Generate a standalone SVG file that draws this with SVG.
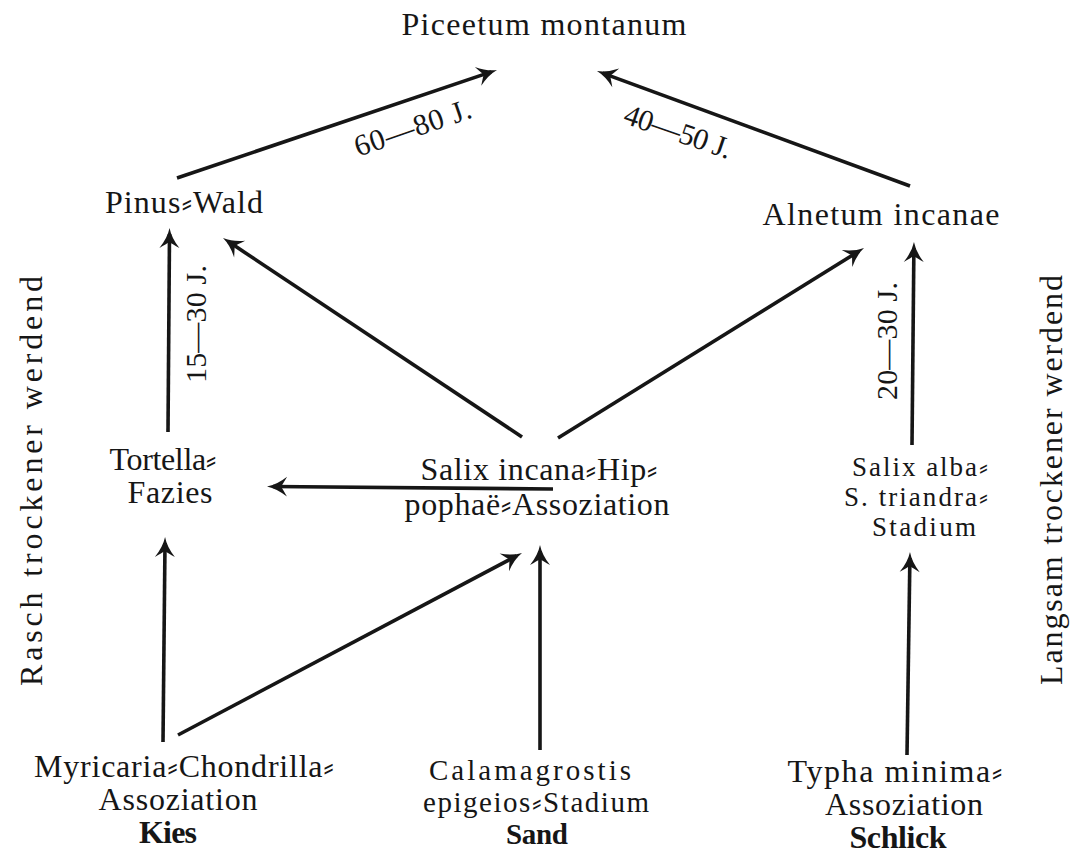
<svg xmlns="http://www.w3.org/2000/svg" width="1072" height="854" viewBox="0 0 1072 854">
<style>
.t{font-family:"Liberation Serif","DejaVu Serif",serif;font-size:32px;fill:#161616;text-anchor:middle}
.b{font-weight:bold}
.l{font-size:30px}
.s27{font-size:27px}
.s29{font-size:29px}
.c{stroke:#161616;stroke-width:3.6;fill:none;marker-end:url(#ah)}
</style>
<defs>
<marker id="ah" markerUnits="userSpaceOnUse" markerWidth="30" markerHeight="24" viewBox="-20 -12 30 24" refX="0" refY="0" orient="auto" overflow="visible">
<path d="M6,0 Q-4,-2 -14,-10 Q-10,-3 -8,0 Q-10,3 -14,10 Q-4,2 6,0 Z" fill="#161616"/>
</marker>
</defs>
<rect width="1072" height="854" fill="#fff"/>
<g id="connectors">
<path class="c" d="M177,178 L491.3,71.9"/>
<path class="c" d="M910,186 L602.6,73.1"/>
<path class="c" d="M168,432 L169.5,234"/>
<path class="c" d="M522,437 L228,241.3"/>
<path class="c" d="M558,438 L858.9,251.2"/>
<path class="c" d="M912,445 L913.9,248"/>
<path class="c" d="M553,489 L273,486.5"/>
<path class="c" d="M163,742 L165,543"/>
<path class="c" d="M178,735 L516.7,555.8"/>
<path class="c" d="M540,750 L540,551"/>
<path class="c" d="M907,755 L909.9,558"/>
</g>
<g id="labels">
<text class="t l" transform="translate(416,137) rotate(-19)" textLength="122" lengthAdjust="spacing">60—80 J.</text>
<text class="t l" transform="translate(675,141) rotate(19)" textLength="112" lengthAdjust="spacing">40—50 J.</text>
<text class="t l" transform="translate(206,324) rotate(-90)" textLength="118" lengthAdjust="spacing">15—30 J.</text>
<text class="t l" transform="translate(897,341) rotate(-90)" textLength="118" lengthAdjust="spacing">20—30 J.</text>
<text class="t" transform="translate(42,481) rotate(-90)" textLength="410" lengthAdjust="spacing">Rasch trockener werdend</text>
<text class="t" transform="translate(1062,480) rotate(-90)" textLength="410" lengthAdjust="spacing">Langsam trockener werdend</text>
</g>
<g id="piceetum"><text class="t" x="544" y="35" textLength="285" lengthAdjust="spacing">Piceetum montanum</text></g>
<g id="pinus"><text class="t" x="184" y="213" textLength="158" lengthAdjust="spacing">Pinus⸗Wald</text></g>
<g id="alnetum"><text class="t" x="881" y="225" textLength="237" lengthAdjust="spacing">Alnetum incanae</text></g>
<g id="tortella">
<text class="t" x="163" y="470" textLength="107" lengthAdjust="spacing">Tortella⸗</text>
<text class="t" x="170" y="503" textLength="85" lengthAdjust="spacing">Fazies</text>
</g>
<g id="salix-incana">
<text class="t" x="539" y="480" textLength="237" lengthAdjust="spacing">Salix incana⸗Hip⸗</text>
<text class="t" x="537" y="515" textLength="265" lengthAdjust="spacing">pophaë⸗Assoziation</text>
</g>
<g id="salix-alba">
<text class="t s27" x="920" y="476" textLength="136" lengthAdjust="spacing">Salix alba⸗</text>
<text class="t s27" x="916" y="506" textLength="144" lengthAdjust="spacing">S. triandra⸗</text>
<text class="t s27" x="924" y="536" textLength="104" lengthAdjust="spacing">Stadium</text>
</g>
<g id="myricaria">
<text class="t" x="184" y="777" textLength="300" lengthAdjust="spacing">Myricaria⸗Chondrilla⸗</text>
<text class="t" x="178" y="810" textLength="159" lengthAdjust="spacing">Assoziation</text>
<text class="t b" x="168" y="843" textLength="58" lengthAdjust="spacing">Kies</text>
</g>
<g id="calamagrostis">
<text class="t s29" x="530" y="780" textLength="202" lengthAdjust="spacing">Calamagrostis</text>
<text class="t s29" x="536" y="812" textLength="226" lengthAdjust="spacing">epigeios⸗Stadium</text>
<text class="t b s29" x="537" y="844" textLength="62" lengthAdjust="spacing">Sand</text>
</g>
<g id="typha">
<text class="t" x="895" y="782" textLength="215" lengthAdjust="spacing">Typha minima⸗</text>
<text class="t" x="904" y="815" textLength="158" lengthAdjust="spacing">Assoziation</text>
<text class="t b" x="898" y="848" textLength="97" lengthAdjust="spacing">Schlick</text>
</g>
</svg>
